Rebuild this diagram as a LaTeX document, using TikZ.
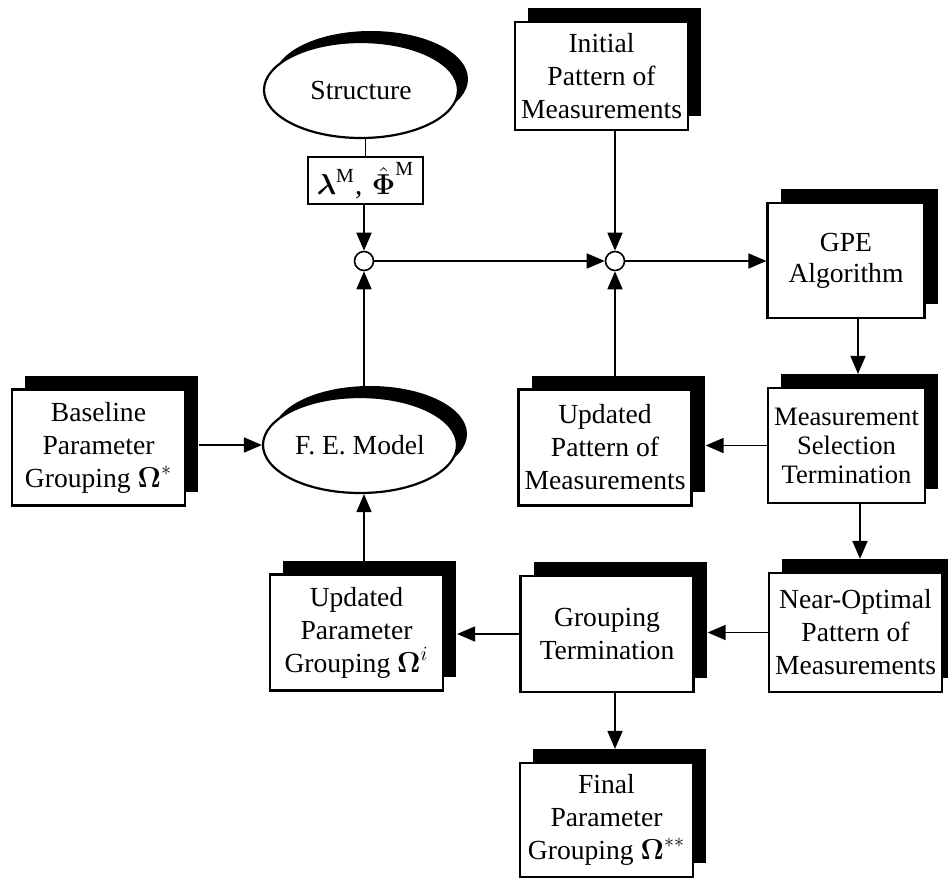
\documentclass[tikz,border=0pt]{standalone}
\usepackage{amsmath}
\usepackage{fontspec}
\setmainfont{Liberation Serif}
\usetikzlibrary{arrows.meta,shapes.geometric,shadows}

\begin{document}
\begin{tikzpicture}[x=0.5pt,y=-0.5pt,
  txt/.style={font=\fontsize{13.8}{16.5}\selectfont},
  box/.style={txt, draw=black, line width=1.1pt, fill=white,
    minimum width=86.5pt, minimum height=58pt, inner sep=0pt, align=center,
    general shadow={shadow xshift=6.5pt, shadow yshift=7pt, fill=black}},
  oval/.style={txt, ellipse, draw=black, line width=1.1pt, fill=white,
    minimum width=97pt, minimum height=48pt, inner sep=0pt,
    general shadow={shadow xshift=5pt, shadow yshift=5.5pt, fill=black}},
  junc/.style={circle, draw=black, line width=0.8pt, fill=white, minimum size=9.5pt, inner sep=0pt},
  con/.style={line width=0.85pt},
  arr/.style={con, -{Triangle[length=9pt,width=7.5pt]}}
]
\useasboundingbox (0,0) rectangle (948,878);

% nodes
\node[oval] (struct) at (361,90) {Structure};
\node[draw=black, line width=0.7pt, fill=white, minimum width=57.5pt, minimum height=23.5pt, inner sep=0pt,
      font=\fontsize{14.5}{16.5}\selectfont] (lam) at (365.5,180.5)
      {$\boldsymbol{\lambda}^{\textrm{\fontsize{10}{10}\selectfont M}}$,\,\,$\hat{\boldsymbol{\Phi}}^{\textrm{\fontsize{10}{10}\selectfont M}}$};
\node[junc] (c1) at (364,261) {};
\node[junc] (c2) at (615,261) {};
\node[box, minimum height=54pt] (init) at (601.5,76) {Initial\\Pattern of\\Measurements};
\node[box, minimum width=78.5pt, minimum height=57.5pt, font=\fontsize{13.8}{15.5}\selectfont] (gpe) at (846,260.5) {GPE\\Algorithm};
\node[box, minimum width=78.5pt, minimum height=57.5pt, font=\fontsize{13.3}{14.5}\selectfont] (mst) at (846.5,445.5) {Measurement\\Selection\\Termination};
\node[box] (updp) at (605,447.5) {Updated\\Pattern of\\Measurements};
\node[box] (base) at (98.5,447.5) {Baseline\\Parameter\\Grouping $\boldsymbol{\Omega}^{*}$};
\node[oval] (fe) at (360,445) {F. E. Model};
\node[box] (updg) at (356.5,632.5) {Updated\\Parameter\\Grouping $\boldsymbol{\Omega}^{i}$};
\node[box] (gterm) at (607,634) {Grouping\\Termination};
\node[box, minimum height=59.5pt] (nopt) at (855.5,632.5) {Near-Optimal\\Pattern of\\Measurements};
\node[box, minimum height=57pt] (final) at (606.5,820) {Final\\Parameter\\Grouping $\boldsymbol{\Omega}^{**}$};

% column helpers
\coordinate (colD) at (858,0);
\coordinate (colD2) at (860,0);

% connectors
\draw[con] (lam.north) -- (lam.north |- struct.south);
\draw[arr] (lam.south -| c1) -- (c1.north);
\draw[arr] (c1 |- fe.north) -- (c1.south);
\draw[arr] (c1.east) -- (c2.west);
\draw[arr] (c2 |- init.south) -- (c2.north);
\draw[arr] (c2 |- updp.north) -- (c2.south);
\draw[arr] (c2.east) -- (gpe.west |- c2);
\draw[arr] (gpe.south -| colD) -- ([yshift=6.5pt]mst.north -| colD);
\draw[arr] (mst.west) -- ([xshift=6.5pt]updp.east |- mst.west);
\draw[arr] (mst.south -| colD2) -- ([yshift=6.5pt]nopt.north -| colD2);
\draw[arr] (nopt.west) -- ([xshift=6.5pt]gterm.east |- nopt.west);
\draw[arr] (gterm.west) -- ([xshift=6.5pt]updg.east |- gterm.west);
\draw[arr] (c2 |- gterm.south) -- ([yshift=6.5pt]final.north -| c2);
\draw[arr] ([yshift=6pt]updg.north -| c1) -- (fe.south -| c1);
\draw[arr] ([xshift=6.5pt]base.east |- fe.west) -- (fe.west);
\end{tikzpicture}
\end{document}
